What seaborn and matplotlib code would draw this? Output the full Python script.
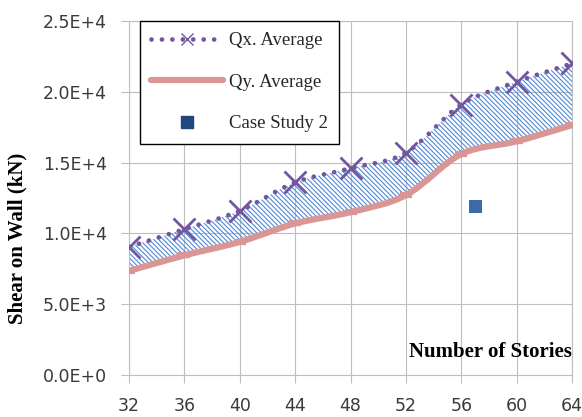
import numpy as np
import matplotlib
matplotlib.use("Agg")
import matplotlib.pyplot as plt
from matplotlib.path import Path
from matplotlib.patches import PathPatch
from matplotlib.lines import Line2D
from matplotlib.font_manager import FontProperties
import seaborn as sns

# ---- data -------------------------------------------------------------
stories = [32, 36, 40, 44, 48, 52, 56, 60, 64]
qx_average = [9050, 10300, 11600, 13600, 14600, 15700, 19100, 20700, 22000]
qy_average = [7350, 8450, 9400, 10700, 11500, 12700, 15600, 16500, 17650]
case_study_stories = [57]
case_study_shear = [11900]
xtick_values = [32, 36, 40, 44, 48, 52, 56, 60, 64]
ytick_values = [0, 5000, 10000, 15000, 20000, 25000]
ytick_labels = ["0.0E+0", "5.0E+3", "1.0E+4", "1.5E+4", "2.0E+4", "2.5E+4"]
legend_labels = ["Qx. Average", "Qy. Average", "Case Study 2"]

# ---- style ------------------------------------------------------------
QX_COLOR = "#7256A0"
QY_COLOR = "#D99694"
CASE_COLOR = "#3C6BAA"
CASE_LEGEND_COLOR = "#1F497D"
HATCH_COLOR = "#5089D4"
GRID_COLOR = "#BEBEBE"
TICK_TEXT = "#3A3A3A"

sns.set_style("white")
plt.rcParams["font.family"] = ["DejaVu Sans"]
plt.rcParams["hatch.linewidth"] = 0.8

SERIF = "Liberation Serif"
DOTS = (0, (0.01, 2.2))


def smooth_vertices(xs, ys):
    """Cubic Bezier vertices for a smoothed line through the points."""
    pts = np.column_stack([xs, ys]).astype(float)
    n = len(pts)
    verts = [pts[0]]
    for i in range(n - 1):
        p0 = pts[i - 1] if i > 0 else pts[i]
        p1 = pts[i]
        p2 = pts[i + 1]
        p3 = pts[i + 2] if i + 2 < n else pts[i + 1]
        verts.extend([p1 + (p2 - p0) / 6.0, p2 - (p3 - p1) / 6.0, p2])
    return np.array(verts)


def curve_codes(n_points):
    return [Path.MOVETO] + [Path.CURVE4] * (3 * (n_points - 1))


fig = plt.figure(figsize=(5.82, 4.17), dpi=100)
ax = fig.add_axes([129 / 582, 42 / 417, 443 / 582, 354 / 417])

qx_v = smooth_vertices(stories, qx_average)
qy_v = smooth_vertices(stories, qy_average)
n = len(stories)

# hatched band between the two averages
band_verts = np.vstack([qx_v, qy_v[::-1], qx_v[:1]])
band_codes = (curve_codes(n)
              + [Path.LINETO] + [Path.CURVE4] * (3 * (n - 1))
              + [Path.CLOSEPOLY])
ax.add_patch(PathPatch(Path(band_verts, band_codes), facecolor="none",
                       edgecolor=HATCH_COLOR, hatch="\\" * 7, linewidth=0,
                       zorder=1))

# smoothed average lines
ax.add_patch(PathPatch(Path(qy_v, curve_codes(n)), facecolor="none",
                       edgecolor=QY_COLOR, linewidth=4.5, capstyle="butt",
                       zorder=2))
ax.add_patch(PathPatch(Path(qx_v, curve_codes(n)), facecolor="none",
                       edgecolor=QX_COLOR, linewidth=3.4, linestyle=DOTS,
                       capstyle="round", zorder=3))

# point markers
sns.scatterplot(x=stories, y=qy_average, marker="_", s=75, linewidth=4.5,
                color=QY_COLOR, ax=ax, zorder=4, legend=False)
sns.scatterplot(x=stories, y=qx_average, marker="x", s=250, linewidth=2.0,
                color=QX_COLOR, ax=ax, zorder=5, legend=False)
sns.scatterplot(x=case_study_stories, y=case_study_shear, marker="s", s=88,
                color=CASE_COLOR, edgecolor="none", ax=ax, zorder=5,
                legend=False)

# axes
ax.set_xlim(32, 64)
ax.set_ylim(0, 25000)
ax.set_xticks(xtick_values)
ax.set_xticklabels([str(v) for v in xtick_values])
ax.set_yticks(ytick_values)
ax.set_yticklabels(ytick_labels)
ax.grid(True, color=GRID_COLOR, linewidth=0.8)
ax.set_axisbelow(True)
for spine in ax.spines.values():
    spine.set_color(GRID_COLOR)
    spine.set_linewidth(0.8)
ax.tick_params(bottom=True, left=True, direction="out", length=6, width=0.8,
               color=GRID_COLOR, labelsize=12.5, labelcolor=TICK_TEXT)
ax.tick_params(axis="y", pad=10)
ax.tick_params(axis="x", pad=10)

ax.set_ylabel("Shear on Wall (kN)", fontfamily=SERIF, fontweight="bold",
              fontsize=15, color="black")
ax.yaxis.set_label_coords(-0.2506, 0.385)
ax.yaxis.label.set_va("center")

ax.set_xlabel("Number of Stories", fontfamily=SERIF, fontweight="bold",
              fontsize=15, color="black")
ax.xaxis.set_label_coords(1.0, 0.065)
ax.xaxis.label.set_ha("right")
ax.xaxis.label.set_va("center")

handles = [
    Line2D([], [], color=QX_COLOR, linewidth=3.4, linestyle=DOTS,
           dash_capstyle="round", marker="x", markersize=9,
           markeredgewidth=1.0),
    Line2D([], [], color=QY_COLOR, linewidth=4.5, solid_capstyle="round"),
    Line2D([], [], linestyle="none", marker="s", markersize=9,
           color=CASE_LEGEND_COLOR),
]
leg = ax.legend(handles, legend_labels, loc="upper left",
                bbox_to_anchor=(11 / 443, 1.0), borderaxespad=0,
                prop=FontProperties(family=SERIF, size=13.5),
                frameon=True, fancybox=False, framealpha=1,
                edgecolor="black", borderpad=0.6, labelspacing=1.3,
                handlelength=3.85, handletextpad=0.3)
leg.get_frame().set_linewidth(1.0)
leg.set_zorder(10)

fig.savefig("out.png", dpi=100)
